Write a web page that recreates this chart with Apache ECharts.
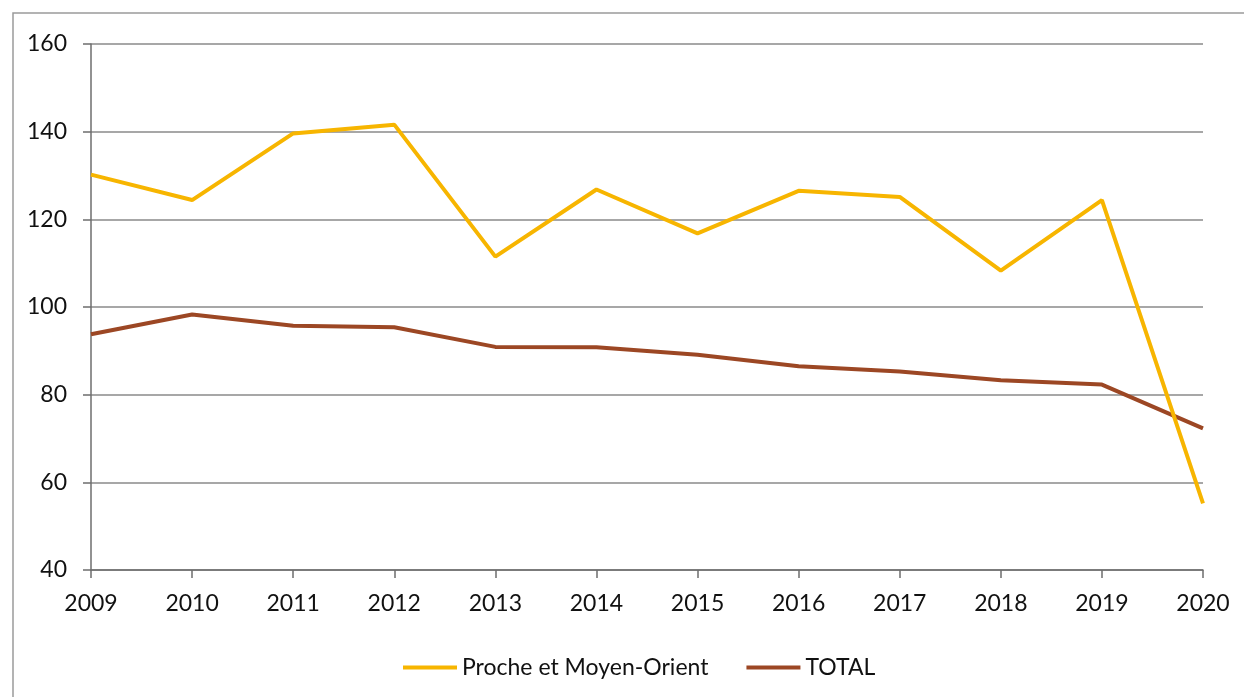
<!DOCTYPE html>
<html>
<head>
<meta charset="utf-8">
<script src="https://cdn.jsdelivr.net/npm/echarts@6/dist/echarts.min.js"></script>
<style>
  html, body { margin: 0; padding: 0; background: #fff; }
  #chart { width: 1244px; height: 697px; }
</style>
</head>
<body>
<div id="chart"></div>
<script>
const years = ['2009', '2010', '2011', '2012', '2013', '2014', '2015', '2016', '2017', '2018', '2019', '2020']
const procheMoyenOrient = [130.2, 124.4, 139.6, 141.6, 111.5, 126.8, 116.8, 126.5, 125.1, 108.3, 124.4, 55.2]
const total = [93.8, 98.3, 95.7, 95.4, 90.9, 90.8, 89.1, 86.5, 85.3, 83.3, 82.3, 72.3]

const font = 'Lato, "Open Sans", sans-serif'

const chart = echarts.init(document.getElementById('chart'))

chart.setOption({
  animation: false,
  textStyle: { fontFamily: font },
  graphic: [
    {
      type: 'rect',
      shape: { x: 13, y: 13, width: 1260, height: 720 },
      style: { fill: 'none', stroke: '#9a9a9a', lineWidth: 1.5 },
      silent: true
    }
  ],
  grid: {
    left: 91,
    right: 41,
    top: 44,
    bottom: 127
  },
  legend: {
    left: 398,
    top: 651,
    itemWidth: 54,
    itemHeight: 4,
    itemGap: 38,
    icon: 'rect',
    textStyle: { color: '#111', fontSize: 23, fontFamily: font },
    data: ['Proche et Moyen-Orient', 'TOTAL']
  },
  xAxis: {
    type: 'category',
    data: years,
    boundaryGap: false,
    axisLine: { lineStyle: { color: '#6e6e6e', width: 1.5 } },
    axisTick: { show: true, inside: false, length: 8, lineStyle: { color: '#6e6e6e', width: 1.5 } },
    axisLabel: { color: '#111', fontSize: 23, margin: 22 },
    splitLine: { show: false }
  },
  yAxis: {
    type: 'value',
    min: 40,
    max: 160,
    interval: 20,
    axisLine: { show: true, lineStyle: { color: '#6e6e6e', width: 1.5 } },
    axisTick: { show: true, length: 8, lineStyle: { color: '#6e6e6e', width: 1.5 } },
    axisLabel: { color: '#111', fontSize: 23, margin: 24 },
    splitLine: { lineStyle: { color: '#8a8a8a', width: 1.5 } }
  },
  series: [
    {
      name: 'Proche et Moyen-Orient',
      type: 'line',
      data: procheMoyenOrient,
      symbol: 'none',
      lineStyle: { color: '#F7B500', width: 4 },
      itemStyle: { color: '#F7B500' },
      z: 3
    },
    {
      name: 'TOTAL',
      type: 'line',
      data: total,
      symbol: 'none',
      lineStyle: { color: '#9C4724', width: 4 },
      itemStyle: { color: '#9C4724' },
      z: 2
    }
  ]
})
</script>
</body>
</html>
